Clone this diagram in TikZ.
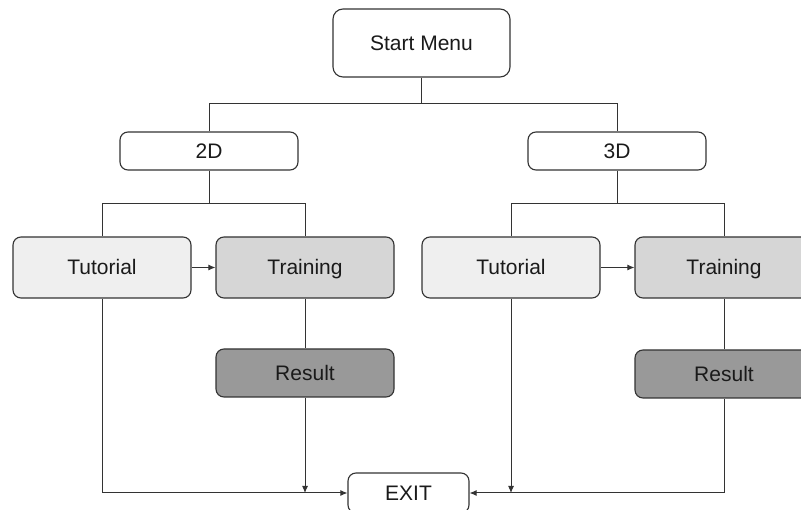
\documentclass[tikz,border=0pt]{standalone}
\usepackage{fontspec}
\setmainfont{Liberation Sans}
\usetikzlibrary{arrows.meta}
\definecolor{edgecol}{HTML}{333333}
\definecolor{txtcol}{HTML}{1A1A1A}
\definecolor{tutfill}{HTML}{EFEFEF}
\definecolor{trainfill}{HTML}{D6D6D6}
\definecolor{resfill}{HTML}{999999}
\tikzset{
  box/.style={draw=edgecol, line width=1.1pt, rounded corners=8pt, fill=white,
    text=txtcol, font=\fontsize{21}{24}\selectfont,
    text height=15pt, text depth=0pt,
    minimum width=178pt, inner sep=0pt},
  tutbox/.style={box, fill=tutfill, minimum height=61pt},
  trainbox/.style={box, fill=trainfill, minimum height=61pt},
  resbox/.style={box, fill=resfill, minimum height=48pt},
  link/.style={draw=edgecol, line width=1pt},
  arr/.style={link, -{Latex[length=7pt,width=6pt]}},
}
\begin{document}
\begin{tikzpicture}[x=1pt, y=-1pt]
  \useasboundingbox (0,0) rectangle (801,510);

  % menu hierarchy
  \node[box, minimum width=177pt, minimum height=68pt, rounded corners=10pt] (start) at (421.5,43) {Start Menu};
  \node[box, minimum height=38pt] (d2) at (209,151) {2D};
  \node[box, minimum height=38pt] (d3) at (617,151) {3D};

  % 2D branch
  \node[tutbox]   (tut2) at (102,267.5) {Tutorial};
  \node[trainbox] (tr2)  at (305,267.5) {Training};
  \node[resbox]   (res2) at (305,373)   {Result};

  % 3D branch
  \node[tutbox]   (tut3) at (511,267.5) {Tutorial};
  \node[trainbox] (tr3)  at (724,267.5) {Training};
  \node[resbox]   (res3) at (724,374)   {Result};

  % exit
  \node[box, minimum width=121pt, minimum height=40pt] (exit) at (408.5,493) {EXIT};

  % tree connectors
  \draw[link] (start.south) -- ++(0,26) coordinate (j1);
  \draw[link] (j1) -| (d2.north);
  \draw[link] (j1) -| (d3.north);
  \draw[link] (d2.south) -- ++(0,33) coordinate (j2);
  \draw[link] (j2) -| (tut2.north);
  \draw[link] (j2) -| (tr2.north);
  \draw[link] (d3.south) -- ++(0,33) coordinate (j3);
  \draw[link] (j3) -| (tut3.north);
  \draw[link] (j3) -| (tr3.north);

  % flow within each branch
  \draw[arr] (tut2.east) -- (tr2.west);
  \draw[arr] (tut3.east) -- (tr3.west);
  \draw[link] (tr2.south) -- (res2.north);
  \draw[link] (tr3.south) -- (res3.north);

  % paths to exit
  \draw[arr] (tut2.south) |- (exit.west);
  \draw[arr] (res2.south) -- (res2.south |- exit.west);
  \draw[arr] (tut3.south) -- (tut3.south |- exit.east);
  \draw[arr] (res3.south) |- (exit.east);
\end{tikzpicture}
\end{document}
